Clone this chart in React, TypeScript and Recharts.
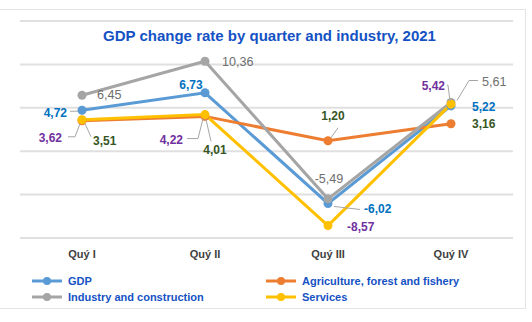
import React from "react";
import { LineChart, Line, XAxis, YAxis, CartesianGrid, LabelList } from "recharts";

const QUARTERS = ["Quý I", "Quý II", "Quý III", "Quý IV"];
const GDP = [4.72, 6.73, -6.02, 5.22];
const AGRICULTURE = [3.51, 4.01, 1.2, 3.16];
const INDUSTRY = [6.45, 10.36, -5.49, 5.61];
const SERVICES = [3.62, 4.22, -8.57, 5.42];
const Y_TICKS = [-10, -5, 0, 5, 10, 15];

const FONT = "'Liberation Sans', Arial, sans-serif";
const TITLE_BLUE = "#1452c4";

type Lbl = { dx: number; dy: number; anchor: "start" | "middle" | "end"; leader?: number[][] };

// label placement per point (relative to the dot)
const GDP_LABELS: Lbl[] = [
  { dx: -15, dy: 3, anchor: "end", leader: [[-4, 1], [-12, 1]] },
  { dx: -14, dy: -8, anchor: "middle" },
  { dx: 36, dy: 6, anchor: "start", leader: [[6, 3], [32, 6]] },
  { dx: 21, dy: 1, anchor: "start" },
];
const AGRI_LABELS: Lbl[] = [
  { dx: 11, dy: 20, anchor: "start", leader: [[3, 3], [9, 16]] },
  { dx: 10, dy: 34, anchor: "middle", leader: [[1, 3], [6, 25]] },
  { dx: 5, dy: -25, anchor: "middle", leader: [[3, -3], [10, -13]] },
  { dx: 21, dy: 0, anchor: "start" },
];
const INDUSTRY_LABELS: Lbl[] = [
  { dx: 15, dy: 0, anchor: "start" },
  { dx: 17, dy: 1, anchor: "start" },
  { dx: 1, dy: -20, anchor: "middle" },
  { dx: 31, dy: -21, anchor: "start", leader: [[6, -2], [18, -22], [27, -22]] },
];
const SERVICES_LABELS: Lbl[] = [
  { dx: -20, dy: 18, anchor: "end", leader: [[-2, 4], [-7, 17], [-14, 17]] },
  { dx: -22, dy: 25, anchor: "end", leader: [[-2, 4], [-7, 24], [-18, 24]] },
  { dx: 19, dy: 1, anchor: "start" },
  { dx: -6, dy: -18, anchor: "end", leader: [[-1, -3], [-3, -19], [-4, -19]] },
];

const data = QUARTERS.map((q, i) => ({
  quarter: q,
  gdp: GDP[i],
  agri: AGRICULTURE[i],
  industry: INDUSTRY[i],
  services: SERVICES[i],
}));

const fmt = (v: number) => v.toFixed(2).replace(".", ",");

const makeLabel = (layout: Lbl[], color: string, weight: string, size: number) => (props: any) => {
  const { x, y, index, value } = props;
  const l = layout[index];
  if (!l) return null;
  return (
    <g>
      {l.leader && (
        <polyline
          points={l.leader.map(([a, b]) => `${x + a},${y + b}`).join(" ")}
          fill="none"
          stroke="#a6a6a6"
          strokeWidth={1}
        />
      )}
      <text
        x={x + l.dx}
        y={y + l.dy}
        textAnchor={l.anchor}
        dominantBaseline="central"
        fill={color}
        fontSize={size}
        fontWeight={weight}
        fontFamily={FONT}
      >
        {fmt(value)}
      </text>
    </g>
  );
};

const SERIES = [
  { key: "gdp", name: "GDP", color: "#5b9bd5", text: "#0070c0", weight: "bold", size: 12, layout: GDP_LABELS },
  { key: "agri", name: "Agriculture, forest and fishery", color: "#ed7d31", text: "#375623", weight: "bold", size: 12, layout: AGRI_LABELS },
  { key: "industry", name: "Industry and construction", color: "#a5a5a5", text: "#6e6e6e", weight: "normal", size: 12.6, layout: INDUSTRY_LABELS },
  { key: "services", name: "Services", color: "#ffc000", text: "#7030a0", weight: "bold", size: 12, layout: SERVICES_LABELS },
];

function LegendItem({ name, color }: { name: string; color: string }) {
  return (
    <div style={{ display: "flex", alignItems: "center", height: 16 }}>
      <svg width={32} height={10} style={{ marginRight: 5 }}>
        <line x1={1} y1={5} x2={31} y2={5} stroke={color} strokeWidth={3} />
        <circle cx={16} cy={5} r={4} fill={color} />
      </svg>
      <span style={{ color: TITLE_BLUE, fontSize: 11, fontWeight: "bold", fontFamily: FONT }}>{name}</span>
    </div>
  );
}

export default function App() {
  return (
    <div style={{ position: "absolute", left: 0, top: 0, width: 532, height: 322, overflow: "hidden", background: "#fff" }}>
      <div
        style={{
          position: "absolute",
          left: -1,
          top: 9,
          width: 525,
          height: 298,
          border: "1px solid #e3e3e3",
        }}
      />
      <LineChart
        width={532}
        height={322}
        data={data}
        margin={{ top: 21, right: 19, bottom: 54, left: 20 }}
      >
        <CartesianGrid vertical={false} stroke="#e0e0e0" strokeWidth={2} />
        <XAxis
          dataKey="quarter"
          axisLine={false}
          tickLine={false}
          height={30}
          tickMargin={6}
          padding={{ left: 62, right: 62 }}
          tick={{ fontSize: 11, fontWeight: "bold", fill: "#404040", fontFamily: FONT }}
        />
        <YAxis hide domain={[-10, 15]} ticks={Y_TICKS} />
        {SERIES.map((s) => (
          <Line
            key={s.key}
            dataKey={s.key}
            name={s.name}
            type="linear"
            stroke={s.color}
            strokeWidth={3}
            dot={{ r: 4.5, fill: s.color, stroke: s.color, strokeWidth: 0 }}
            isAnimationActive={false}
          >
            <LabelList dataKey={s.key} content={makeLabel(s.layout, s.text, s.weight, s.size)} />
          </Line>
        ))}
      </LineChart>
      <div
        style={{
          position: "absolute",
          left: 0,
          top: 27,
          width: 539,
          textAlign: "center",
          color: TITLE_BLUE,
          fontSize: 15,
          fontWeight: "bold",
          fontFamily: FONT,
        }}
      >
        GDP change rate by quarter and industry, 2021
      </div>
      <div style={{ position: "absolute", left: 31, top: 273 }}>
        <LegendItem name={SERIES[0].name} color={SERIES[0].color} />
        <LegendItem name={SERIES[2].name} color={SERIES[2].color} />
      </div>
      <div style={{ position: "absolute", left: 265, top: 273 }}>
        <LegendItem name={SERIES[1].name} color={SERIES[1].color} />
        <LegendItem name={SERIES[3].name} color={SERIES[3].color} />
      </div>
    </div>
  );
}
